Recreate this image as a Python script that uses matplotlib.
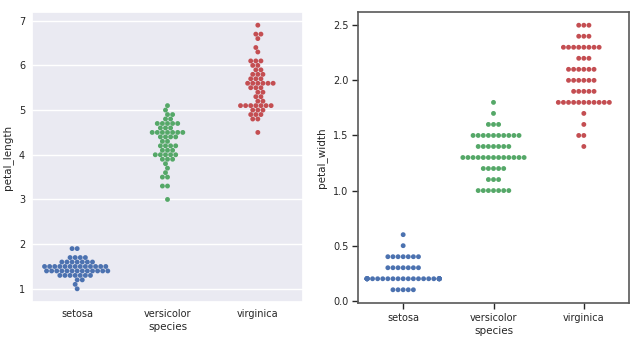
import numpy as np
import pandas as pd
import seaborn as sns
from matplotlib import pyplot as plt

# iris petal measurements, 50 rows per species, in dataset order
species_names = ["setosa", "versicolor", "virginica"]

setosa_length = [1.4, 1.4, 1.3, 1.5, 1.4, 1.7, 1.4, 1.5, 1.4, 1.5,
                 1.5, 1.6, 1.4, 1.1, 1.2, 1.5, 1.3, 1.4, 1.7, 1.5,
                 1.7, 1.5, 1.0, 1.7, 1.9, 1.6, 1.6, 1.5, 1.4, 1.6,
                 1.6, 1.5, 1.5, 1.4, 1.5, 1.2, 1.3, 1.4, 1.3, 1.5,
                 1.3, 1.3, 1.3, 1.6, 1.9, 1.4, 1.6, 1.4, 1.5, 1.4]
setosa_width = [0.2, 0.2, 0.2, 0.2, 0.2, 0.4, 0.3, 0.2, 0.2, 0.1,
                0.2, 0.2, 0.1, 0.1, 0.2, 0.4, 0.4, 0.3, 0.3, 0.3,
                0.2, 0.4, 0.2, 0.5, 0.2, 0.2, 0.4, 0.2, 0.2, 0.2,
                0.2, 0.4, 0.1, 0.2, 0.2, 0.2, 0.2, 0.1, 0.2, 0.2,
                0.3, 0.3, 0.2, 0.6, 0.4, 0.3, 0.2, 0.2, 0.2, 0.2]

versicolor_length = [4.7, 4.5, 4.9, 4.0, 4.6, 4.5, 4.7, 3.3, 4.6, 3.9,
                     3.5, 4.2, 4.0, 4.7, 3.6, 4.4, 4.5, 4.1, 4.5, 3.9,
                     4.8, 4.0, 4.9, 4.7, 4.3, 4.4, 4.8, 5.0, 4.5, 3.5,
                     3.8, 3.7, 3.9, 5.1, 4.5, 4.5, 4.7, 4.4, 4.1, 4.0,
                     4.4, 4.6, 4.0, 3.3, 4.2, 4.2, 4.2, 4.3, 3.0, 4.1]
versicolor_width = [1.4, 1.5, 1.5, 1.3, 1.5, 1.3, 1.6, 1.0, 1.3, 1.4,
                    1.0, 1.5, 1.0, 1.4, 1.3, 1.4, 1.5, 1.0, 1.5, 1.1,
                    1.8, 1.3, 1.5, 1.2, 1.3, 1.4, 1.4, 1.7, 1.5, 1.0,
                    1.1, 1.0, 1.2, 1.6, 1.5, 1.6, 1.5, 1.3, 1.3, 1.3,
                    1.2, 1.4, 1.2, 1.0, 1.3, 1.2, 1.3, 1.3, 1.1, 1.3]

virginica_length = [6.0, 5.1, 5.9, 5.6, 5.8, 6.6, 4.5, 6.3, 5.8, 6.1,
                    5.1, 5.3, 5.5, 5.0, 5.1, 5.3, 5.5, 6.7, 6.9, 5.0,
                    5.7, 4.9, 6.7, 4.9, 5.7, 6.0, 4.8, 4.9, 5.6, 5.8,
                    6.1, 6.4, 5.6, 5.1, 5.6, 6.1, 5.6, 5.5, 4.8, 5.4,
                    5.6, 5.1, 5.1, 5.9, 5.7, 5.2, 5.0, 5.2, 5.4, 5.1]
virginica_width = [2.5, 1.9, 2.1, 1.8, 2.2, 2.1, 1.7, 1.8, 1.8, 2.5,
                   2.0, 1.9, 2.1, 2.0, 2.4, 2.3, 1.8, 2.2, 2.3, 1.5,
                   2.3, 2.0, 2.0, 1.8, 2.1, 1.8, 1.8, 1.8, 2.1, 1.6,
                   1.9, 2.0, 2.2, 1.5, 1.4, 2.3, 2.4, 1.8, 1.8, 2.1,
                   2.4, 2.3, 1.9, 2.3, 2.5, 2.3, 1.9, 2.0, 2.3, 1.8]

colors = ["#4C72B0", "#55A868", "#C44E52"]

iris = pd.DataFrame({
    "species": np.repeat(species_names, 50),
    "petal_length": setosa_length + versicolor_length + virginica_length,
    "petal_width": setosa_width + versicolor_width + virginica_width,
})

sns.set_theme(style="darkgrid")
plt.rcParams.update({
    "font.family": ["DejaVu Sans"],
    "font.size": 7.5,
    "axes.labelsize": 7.5,
    "xtick.labelsize": 7,
    "ytick.labelsize": 7,
    "axes.labelcolor": ".15",
    "xtick.color": ".15",
    "ytick.color": ".15",
})

fig = plt.figure(figsize=(6.4, 3.41), dpi=100)

with sns.axes_style("darkgrid"):
    ax1 = fig.add_axes([32 / 640, 1 - 302 / 341, 271 / 640, 290 / 341])
sns.swarmplot(data=iris, x="species", y="petal_length", hue="species",
              palette=colors, size=3.5, linewidth=0, legend=False, ax=ax1,
              warn_thresh=1)
ax1.xaxis.grid(False)
ax1.tick_params(length=0, pad=5)

with sns.axes_style("ticks"):
    ax2 = fig.add_axes([358 / 640, 1 - 303 / 341, 271 / 640, 291 / 341])
sns.swarmplot(data=iris, x="species", y="petal_width", hue="species",
              palette=colors, size=3.5, linewidth=0, legend=False, ax=ax2,
              warn_thresh=1)
ax2.set_yticks([0.0, 0.5, 1.0, 1.5, 2.0, 2.5])
ax2.tick_params(length=4, width=1, pad=3)
for s in ax2.spines.values():
    s.set_color(".35")
    s.set_linewidth(1.2)

ax1.xaxis.labelpad = 2
ax2.xaxis.labelpad = 2

fig.savefig("out.png", dpi=100)
